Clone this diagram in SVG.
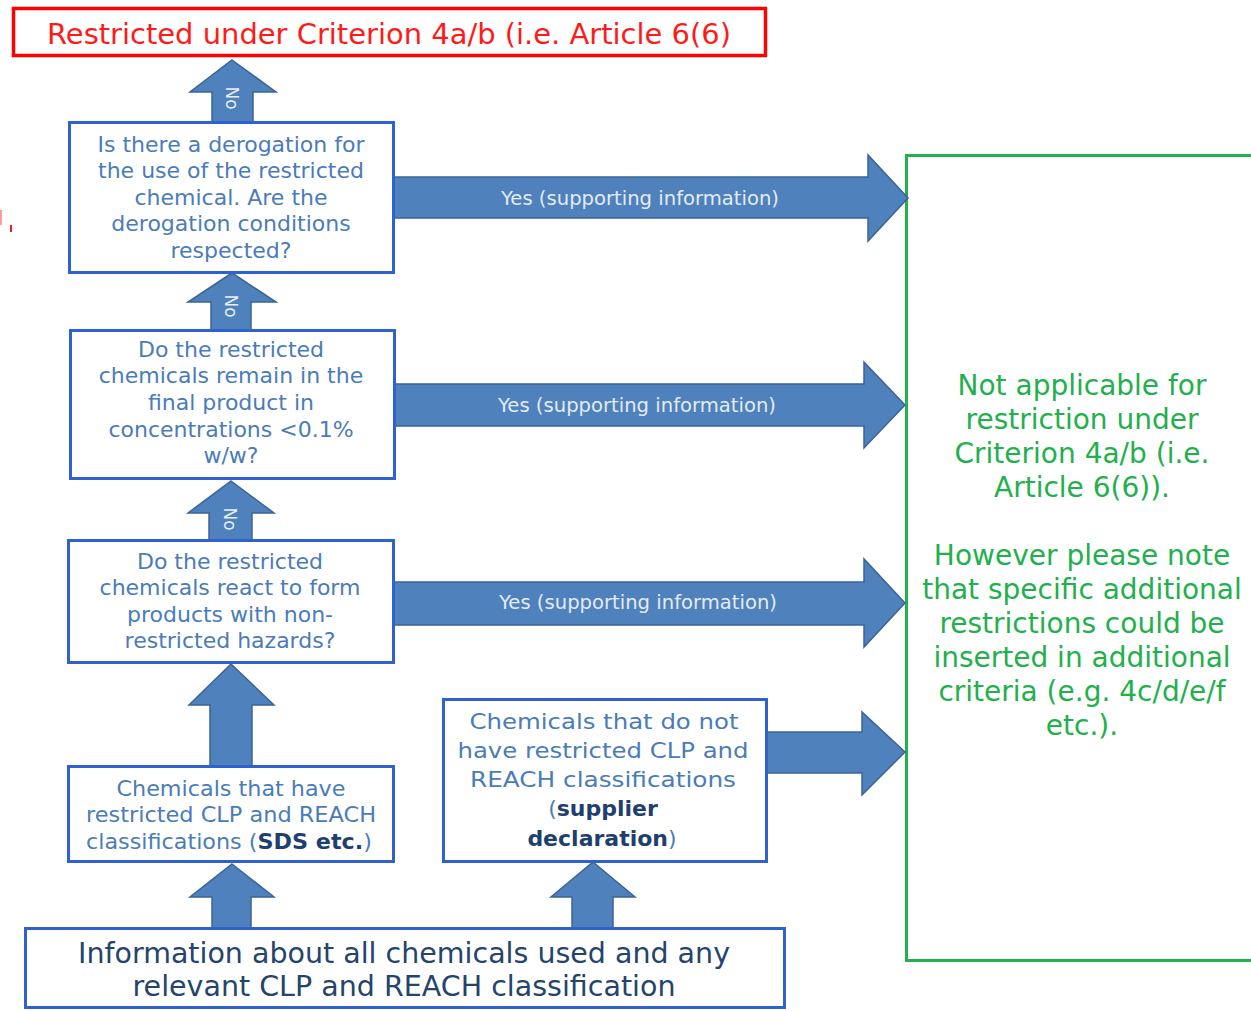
<svg xmlns="http://www.w3.org/2000/svg" width="1251" height="1011" viewBox="0 0 1251 1011">
  <style>
    .box { fill: #ffffff; stroke: #2f62cf; stroke-width: 3; }
    .arrow { fill: #4f81bd; stroke: #3a6496; stroke-width: 1.5; stroke-linejoin: miter; }
    .q { font-family: "DejaVu Sans", Verdana, sans-serif; font-size: 22px; fill: #4a7cb9; text-anchor: middle; }
    .src { font-family: "DejaVu Sans", Verdana, sans-serif; font-size: 22px; fill: #4a7cb9; text-anchor: middle; }
    .strong { font-weight: bold; fill: #1f3f6e; }
    .base { font-family: "DejaVu Sans", Verdana, sans-serif; font-size: 29px; fill: #24446c; text-anchor: middle; }
    .yes { font-family: "DejaVu Sans", Verdana, sans-serif; font-size: 19px; fill: #e3ebf5; text-anchor: middle; }
    .no { font-family: "DejaVu Sans", Verdana, sans-serif; font-size: 17px; fill: #e8eef7; text-anchor: middle; dominant-baseline: central; }
    .green { font-family: "DejaVu Sans", Verdana, sans-serif; font-size: 28px; fill: #22b04c; text-anchor: middle; }
  </style>

  <rect width="1251" height="1011" fill="#ffffff"/>

  <!-- stray red marks at the left edge -->
  <rect x="0" y="210" width="2" height="15" fill="#ff5a5a" opacity="0.6"/>
  <rect x="10" y="225" width="2" height="7" fill="#ff1a1a"/>

  <!-- outcome: not applicable (drawn first so arrow tips sit on its edge) -->
  <g id="not-applicable">
    <rect x="906.5" y="155.5" width="400" height="805" fill="#ffffff" stroke="#22b14c" stroke-width="3"/>
    <text class="green" x="1082" y="395">Not applicable for</text>
    <text class="green" x="1082" y="429">restriction under</text>
    <text class="green" x="1082" y="463">Criterion 4a/b (i.e.</text>
    <text class="green" x="1082" y="497">Article 6(6)).</text>
    <text class="green" x="1082" y="565">However please note</text>
    <text class="green" x="1082" y="599">that specific additional</text>
    <text class="green" x="1082" y="633">restrictions could be</text>
    <text class="green" x="1082" y="667">inserted in additional</text>
    <text class="green" x="1082" y="701">criteria (e.g. 4c/d/e/f</text>
    <text class="green" x="1082" y="735">etc.).</text>
  </g>

  <!-- block arrows between the steps -->
  <g id="connectors">
    <!-- upward "No" arrows -->
    <polygon class="arrow" points="232,60 276,92 253,92 253,122 212,122 212,92 190,92"/>
    <text class="no" transform="translate(232,98) rotate(90)">No</text>

    <polygon class="arrow" points="232,273 276,302 251,302 251,330 211,330 211,302 188,302"/>
    <text class="no" transform="translate(231,306) rotate(90)">No</text>

    <polygon class="arrow" points="231,481 274,513 252,513 252,540 209,540 209,513 188,513"/>
    <text class="no" transform="translate(230,519) rotate(90)">No</text>

    <!-- upward arrows from the sources -->
    <polygon class="arrow" points="231,664 274,705 252,705 252,766 210,766 210,705 189,705"/>
    <polygon class="arrow" points="232,864 274,897 251,897 251,928 212,928 212,897 190,897"/>
    <polygon class="arrow" points="593,862 635,897 613,897 613,928 572,928 572,897 551,897"/>

    <!-- rightward "Yes" arrows -->
    <polygon class="arrow" points="394,177 868,177 868,155 908,198 868,241 868,218 394,218"/>
    <text class="yes" x="640" y="205" textLength="278" lengthAdjust="spacingAndGlyphs">Yes (supporting information)</text>

    <polygon class="arrow" points="394,384 864,384 864,362 905,405 864,448 864,426 394,426"/>
    <text class="yes" x="637" y="412" textLength="278" lengthAdjust="spacingAndGlyphs">Yes (supporting information)</text>

    <polygon class="arrow" points="394,582 864,582 864,559 905,603 864,647 864,625 394,625"/>
    <text class="yes" x="638" y="609" textLength="278" lengthAdjust="spacingAndGlyphs">Yes (supporting information)</text>

    <polygon class="arrow" points="767,732 862,732 862,712 905,752 862,795 862,773 767,773"/>
  </g>

  <!-- outcome: restricted -->
  <g id="restricted">
    <rect x="13.5" y="8.5" width="752" height="47" fill="#ffffff" stroke="#ff0000" stroke-width="3.5"/>
    <text x="389" y="44" font-family="DejaVu Sans, Verdana, sans-serif" font-size="28" fill="#ff1a1a" text-anchor="middle" textLength="684" lengthAdjust="spacingAndGlyphs">Restricted under Criterion 4a/b (i.e. Article 6(6)</text>
  </g>

  <g id="q-derogation">
    <rect class="box" x="69.5" y="122.5" width="324" height="150"/>
    <text class="q" x="231" y="152">Is there a derogation for</text>
    <text class="q" x="231" y="178">the use of the restricted</text>
    <text class="q" x="231" y="205">chemical. Are the</text>
    <text class="q" x="231" y="231">derogation conditions</text>
    <text class="q" x="231" y="258">respected?</text>
  </g>

  <g id="q-concentration">
    <rect class="box" x="70.5" y="330.5" width="324" height="148"/>
    <text class="q" x="231" y="357">Do the restricted</text>
    <text class="q" x="231" y="383">chemicals remain in the</text>
    <text class="q" x="231" y="410">final product in</text>
    <text class="q" x="231" y="437">concentrations &lt;0.1%</text>
    <text class="q" x="231" y="463">w/w?</text>
  </g>

  <g id="q-reaction">
    <rect class="box" x="68.5" y="540.5" width="325" height="122"/>
    <text class="q" x="230" y="569">Do the restricted</text>
    <text class="q" x="230" y="595">chemicals react to form</text>
    <text class="q" x="230" y="622">products with non-</text>
    <text class="q" x="230" y="648">restricted hazards?</text>
  </g>

  <g id="src-restricted">
    <rect class="box" x="68.5" y="766.5" width="325" height="95"/>
    <text class="src" x="231" y="796" textLength="229" lengthAdjust="spacingAndGlyphs">Chemicals that have</text>
    <text class="src" x="231" y="822" textLength="290" lengthAdjust="spacingAndGlyphs">restricted CLP and REACH</text>
    <text class="src" x="229" y="849" textLength="286" lengthAdjust="spacingAndGlyphs">classifications (<tspan class="strong">SDS etc.</tspan>)</text>
  </g>

  <g id="src-unrestricted">
    <rect class="box" x="443.5" y="699.5" width="323" height="162"/>
    <text class="src" x="604" y="729" textLength="269" lengthAdjust="spacingAndGlyphs">Chemicals that do not</text>
    <text class="src" x="603" y="758" textLength="291" lengthAdjust="spacingAndGlyphs">have restricted CLP and</text>
    <text class="src" x="603" y="787" textLength="266" lengthAdjust="spacingAndGlyphs">REACH classifications</text>
    <text class="src" x="603" y="816">(<tspan class="strong">supplier</tspan></text>
    <text class="src" x="602" y="846"><tspan class="strong">declaration</tspan>)</text>
  </g>

  <g id="info-all-chemicals">
    <rect class="box" x="25.5" y="928.5" width="759" height="79"/>
    <text class="base" x="404" y="963" textLength="652" lengthAdjust="spacingAndGlyphs">Information about all chemicals used and any</text>
    <text class="base" x="404" y="996" textLength="543" lengthAdjust="spacingAndGlyphs">relevant CLP and REACH classification</text>
  </g>
</svg>
